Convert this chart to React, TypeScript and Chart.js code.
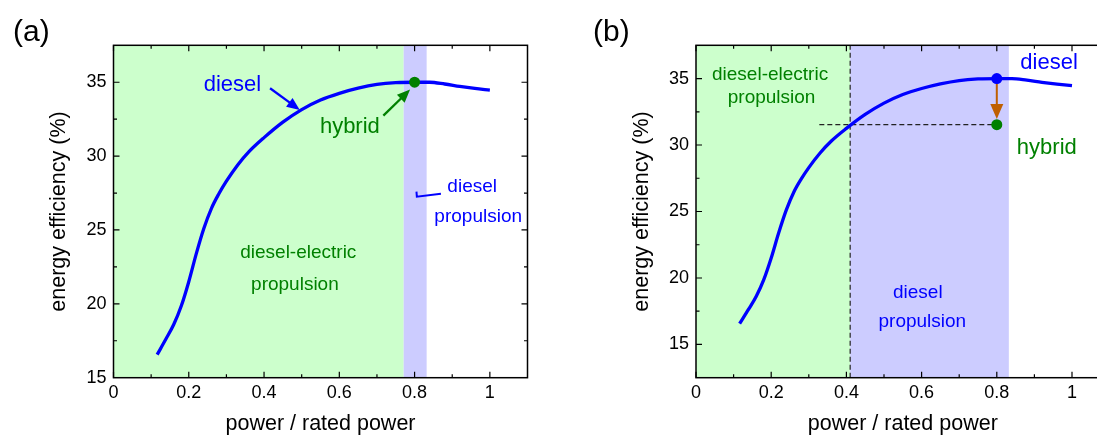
import React, { useEffect, useRef } from "react";
import { Chart, registerables } from "chart.js";

Chart.register(...registerables);

const FONT = "Arial, 'Liberation Sans', Helvetica, sans-serif";

// efficiency curve
const powerRatio = [0.116, 0.14, 0.16, 0.18, 0.2, 0.22, 0.24, 0.26, 0.28, 0.3, 0.33, 0.36, 0.4, 0.45, 0.5, 0.55, 0.6, 0.65, 0.7, 0.75, 0.8, 0.84, 0.88, 0.92, 0.96, 1.0];
const efficiency = [16.56, 17.65, 18.6, 19.85, 21.5, 23.4, 25.1, 26.45, 27.45, 28.3, 29.4, 30.3, 31.25, 32.3, 33.15, 33.8, 34.25, 34.6, 34.85, 34.97, 35.0, 35.0, 34.88, 34.72, 34.58, 34.46];

// axis ticks
const xTicks = [0, 0.2, 0.4, 0.6, 0.8, 1];
const xMinorTicks = [0.1, 0.3, 0.5, 0.7, 0.9];
const yTicks = [15, 20, 25, 30, 35];
const yMinorTicks = [17.5, 22.5, 27.5, 32.5];

// operating point
const operatingPower = 0.8;
const dieselEfficiency = 35.0;
const hybridEfficiency = 31.53;

// propulsion regions (green, purple)
const bandEdgesA = [0, 0.771, 0.832];
const bandEdgesB = [0, 0.41, 0.832];
const crossoverPower = 0.41;
const crossoverLineStart = 0.328;

const BLUE = "#0000ff";
const GREEN = "#008000";
const ORANGE = "#bf5f00";
const BAND_COLORS = ["#ccffcc", "#ccccff"];

const H = 437;
const TOP = 45.3;
const BOTTOM = 377.7;

type Txt = { t: string; x: number; y: number; c: string; s: number };
type Arrow = { x0: number; y0: number; x1: number; y1: number; c: string; w: number; hl: number; hw: number; under?: boolean };

interface Spec {
  tag: string;
  label: string;
  labelX: number;
  left: number;
  width: number;
  areaLeft: number;
  areaRight: number;
  yMin: number;
  yMax: number;
  yTitleX: number;
  bands: number[];
  points: { x: number; y: number; c: string }[];
  texts: Txt[];
  arrows: Arrow[];
  dashed: { x0: number; y0: number; x1: number; y1: number }[];
  bracket?: { x: number; y: number }[];
}

const specA: Spec = {
  tag: "a",
  label: "(a)",
  labelX: 13,
  left: 0,
  width: 560,
  areaLeft: 113.5,
  areaRight: 527.5,
  yMin: 15,
  yMax: 37.5,
  yTitleX: 59,
  bands: bandEdgesA,
  points: [{ x: operatingPower, y: dieselEfficiency, c: GREEN }],
  texts: [
    { t: "diesel", x: 0.316, y: 34.8, c: BLUE, s: 22 },
    { t: "hybrid", x: 0.628, y: 31.97, c: GREEN, s: 22 },
    { t: "diesel-electric", x: 0.491, y: 23.45, c: GREEN, s: 19 },
    { t: "propulsion", x: 0.482, y: 21.28, c: GREEN, s: 19 },
    { t: "diesel", x: 0.953, y: 27.9, c: BLUE, s: 19 },
    { t: "propulsion", x: 0.969, y: 25.87, c: BLUE, s: 19 },
  ],
  arrows: [
    { x0: 0.416, y0: 34.59, x1: 0.495, y1: 33.12, c: BLUE, w: 2.3, hl: 13, hw: 11 },
    { x0: 0.717, y0: 32.74, x1: 0.788, y1: 34.5, c: GREEN, w: 2.3, hl: 13, hw: 11 },
  ],
  dashed: [],
  bracket: [
    { x: 0.805, y: 27.6 },
    { x: 0.806, y: 27.25 },
    { x: 0.87, y: 27.45 },
  ],
};

const specB: Spec = {
  tag: "b",
  label: "(b)",
  labelX: 33,
  left: 560,
  width: 560,
  areaLeft: 136,
  areaRight: 549.6,
  yMin: 12.5,
  yMax: 37.5,
  yTitleX: 82,
  bands: bandEdgesB,
  points: [
    { x: operatingPower, y: dieselEfficiency, c: BLUE },
    { x: operatingPower, y: hybridEfficiency, c: GREEN },
  ],
  texts: [
    { t: "diesel-electric", x: 0.197, y: 35.28, c: GREEN, s: 19 },
    { t: "propulsion", x: 0.201, y: 33.57, c: GREEN, s: 19 },
    { t: "diesel", x: 0.939, y: 36.16, c: BLUE, s: 22 },
    { t: "hybrid", x: 0.933, y: 29.75, c: GREEN, s: 22 },
    { t: "diesel", x: 0.59, y: 18.92, c: BLUE, s: 19 },
    { t: "propulsion", x: 0.602, y: 16.73, c: BLUE, s: 19 },
  ],
  arrows: [
    { x0: operatingPower, y0: dieselEfficiency, x1: operatingPower, y1: 31.95, c: ORANGE, w: 2, hl: 15, hw: 13, under: true },
  ],
  dashed: [
    { x0: crossoverPower, y0: 12.5, x1: crossoverPower, y1: 37.5 },
    { x0: crossoverLineStart, y0: hybridEfficiency, x1: operatingPower, y1: hybridEfficiency },
  ],
};

function drawArrow(ctx: CanvasRenderingContext2D, ax: number, ay: number, bx: number, by: number, a: Arrow) {
  const dx = bx - ax;
  const dy = by - ay;
  const len = Math.hypot(dx, dy);
  const ux = dx / len;
  const uy = dy / len;
  const baseX = bx - ux * a.hl;
  const baseY = by - uy * a.hl;
  ctx.strokeStyle = a.c;
  ctx.fillStyle = a.c;
  ctx.lineWidth = a.w;
  ctx.lineCap = "butt";
  ctx.beginPath();
  ctx.moveTo(ax, ay);
  ctx.lineTo(baseX + ux * 1, baseY + uy * 1);
  ctx.stroke();
  ctx.beginPath();
  ctx.moveTo(bx, by);
  ctx.lineTo(baseX - uy * a.hw / 2, baseY + ux * a.hw / 2);
  ctx.lineTo(baseX + uy * a.hw / 2, baseY - ux * a.hw / 2);
  ctx.closePath();
  ctx.fill();
}

function makePlugin(p: Spec) {
  return {
    id: "decor_" + p.tag,
    beforeDatasetsDraw(chart: any) {
      const { ctx, chartArea: a, scales } = chart;
      const xs = scales.x;
      const ys = scales.y;
      ctx.save();
      ctx.beginPath();
      ctx.rect(a.left, a.top, a.right - a.left, a.bottom - a.top);
      ctx.clip();
      for (let i = 0; i < p.bands.length - 1; i++) {
        const x0 = xs.getPixelForValue(p.bands[i]);
        const x1 = xs.getPixelForValue(p.bands[i + 1]);
        ctx.fillStyle = BAND_COLORS[i];
        ctx.fillRect(x0, a.top, x1 - x0, a.bottom - a.top);
      }
      ctx.strokeStyle = "#222";
      ctx.lineWidth = 1.2;
      ctx.setLineDash([5, 3]);
      for (const d of p.dashed) {
        ctx.beginPath();
        ctx.moveTo(xs.getPixelForValue(d.x0), ys.getPixelForValue(d.y0));
        ctx.lineTo(xs.getPixelForValue(d.x1), ys.getPixelForValue(d.y1));
        ctx.stroke();
      }
      ctx.setLineDash([]);
      for (const ar of p.arrows) {
        if (!ar.under) continue;
        drawArrow(ctx, xs.getPixelForValue(ar.x0), ys.getPixelForValue(ar.y0), xs.getPixelForValue(ar.x1), ys.getPixelForValue(ar.y1), ar);
      }
      ctx.restore();
    },
    afterDatasetsDraw(chart: any) {
      const { ctx, scales } = chart;
      const xs = scales.x;
      const ys = scales.y;
      ctx.save();
      for (const ar of p.arrows) {
        if (ar.under) continue;
        drawArrow(ctx, xs.getPixelForValue(ar.x0), ys.getPixelForValue(ar.y0), xs.getPixelForValue(ar.x1), ys.getPixelForValue(ar.y1), ar);
      }
      if (p.bracket) {
        ctx.strokeStyle = BLUE;
        ctx.lineWidth = 2;
        ctx.beginPath();
        p.bracket.forEach((pt, i) => {
          const px = xs.getPixelForValue(pt.x);
          const py = ys.getPixelForValue(pt.y);
          if (i === 0) ctx.moveTo(px, py);
          else ctx.lineTo(px, py);
        });
        ctx.stroke();
      }
      ctx.textAlign = "center";
      ctx.textBaseline = "middle";
      for (const t of p.texts) {
        ctx.font = `${t.s}px ${FONT}`;
        ctx.fillStyle = t.c;
        ctx.fillText(t.t, xs.getPixelForValue(t.x), ys.getPixelForValue(t.y));
      }
      ctx.restore();
    },
    afterDraw(chart: any) {
      const { ctx, chartArea: a, scales } = chart;
      const xs = scales.x;
      const ys = scales.y;
      ctx.save();
      ctx.strokeStyle = "#000";
      ctx.lineWidth = 1.5;
      ctx.strokeRect(a.left, a.top, a.right - a.left, a.bottom - a.top);
      ctx.lineWidth = 1.2;
      const tick = (vals: number[], len: number) => {
        for (const v of vals) {
          const px = xs.getPixelForValue(v);
          ctx.beginPath();
          ctx.moveTo(px, a.bottom);
          ctx.lineTo(px, a.bottom - len);
          ctx.moveTo(px, a.top);
          ctx.lineTo(px, a.top + len);
          ctx.stroke();
        }
      };
      const ytick = (vals: number[], len: number) => {
        for (const v of vals) {
          if (v <= p.yMin || v >= p.yMax) continue;
          const py = ys.getPixelForValue(v);
          ctx.beginPath();
          ctx.moveTo(a.left, py);
          ctx.lineTo(a.left + len, py);
          ctx.moveTo(a.right, py);
          ctx.lineTo(a.right - len, py);
          ctx.stroke();
        }
      };
      tick(xTicks, 6);
      tick(xMinorTicks, 3.5);
      ytick(yTicks, 6);
      ytick(yMinorTicks, 3.5);
      ctx.fillStyle = "#000";
      ctx.font = `30px ${FONT}`;
      ctx.textAlign = "left";
      ctx.textBaseline = "middle";
      ctx.fillText(p.label, p.labelX, 33);
      ctx.restore();
    },
  };
}

function buildConfig(p: Spec): any {
  const curve = powerRatio.map((v, i) => ({ x: v, y: efficiency[i] }));
  return {
    type: "line",
    data: {
      datasets: [
        {
          data: curve,
          borderColor: BLUE,
          borderWidth: 3.3,
          pointRadius: 0,
          cubicInterpolationMode: "monotone",
          fill: false,
          order: 2,
        },
        ...p.points.map((pt) => ({
          data: [{ x: pt.x, y: pt.y }],
          showLine: false,
          pointRadius: 5.5,
          pointBackgroundColor: pt.c,
          pointBorderWidth: 0,
          order: 1,
        })),
      ],
    },
    options: {
      responsive: false,
      animation: false,
      devicePixelRatio: 1,
      events: [],
      layout: { padding: { left: 0, top: TOP, right: p.width - p.areaRight, bottom: 0 } },
      plugins: { legend: { display: false }, tooltip: { enabled: false } },
      scales: {
        x: {
          type: "linear",
          min: 0,
          max: 1.1,
          afterBuildTicks: (s: any) => {
            s.ticks = xTicks.map((v) => ({ value: v }));
          },
          afterFit: (s: any) => {
            s.height = H - BOTTOM;
          },
          grid: { display: false, drawTicks: false },
          border: { display: false },
          ticks: {
            padding: 4.5,
            color: "#000",
            font: { size: 18, family: FONT },
            maxRotation: 0,
            autoSkip: false,
            callback: (v: number) => String(v),
          },
          title: {
            display: true,
            text: "power / rated power",
            color: "#000",
            font: { size: 21.5, family: FONT },
            padding: { top: 0, bottom: 0 },
          },
        },
        y: {
          type: "linear",
          min: p.yMin,
          max: p.yMax,
          afterBuildTicks: (s: any) => {
            s.ticks = yTicks.map((v) => ({ value: v }));
          },
          afterFit: (s: any) => {
            s.width = p.areaLeft;
          },
          grid: { display: false, drawTicks: false },
          border: { display: false },
          ticks: {
            padding: 7,
            color: "#000",
            font: { size: 18, family: FONT },
            autoSkip: false,
            callback: (v: number) => String(v),
          },
          title: {
            display: true,
            text: "energy efficiency (%)",
            color: "#000",
            font: { size: 21.5, family: FONT },
            padding: { top: p.yTitleX - 12.9, bottom: 0 },
          },
        },
      },
    },
    plugins: [makePlugin(p)],
  };
}

function Panel({ spec }: { spec: Spec }) {
  const ref = useRef<HTMLCanvasElement>(null);
  useEffect(() => {
    const canvas = ref.current;
    if (!canvas) return;
    const chart = new Chart(canvas, buildConfig(spec));
    return () => chart.destroy();
  }, [spec]);
  return (
    <canvas
      ref={ref}
      width={spec.width}
      height={H}
      style={{ position: "absolute", left: spec.left, top: 0, width: spec.width, height: H }}
    />
  );
}

export default function App() {
  return (
    <div
      style={{
        position: "absolute",
        left: 0,
        top: 0,
        width: 1097,
        height: H,
        overflow: "hidden",
        background: "#fff",
      }}
    >
      <Panel spec={specA} />
      <Panel spec={specB} />
    </div>
  );
}
